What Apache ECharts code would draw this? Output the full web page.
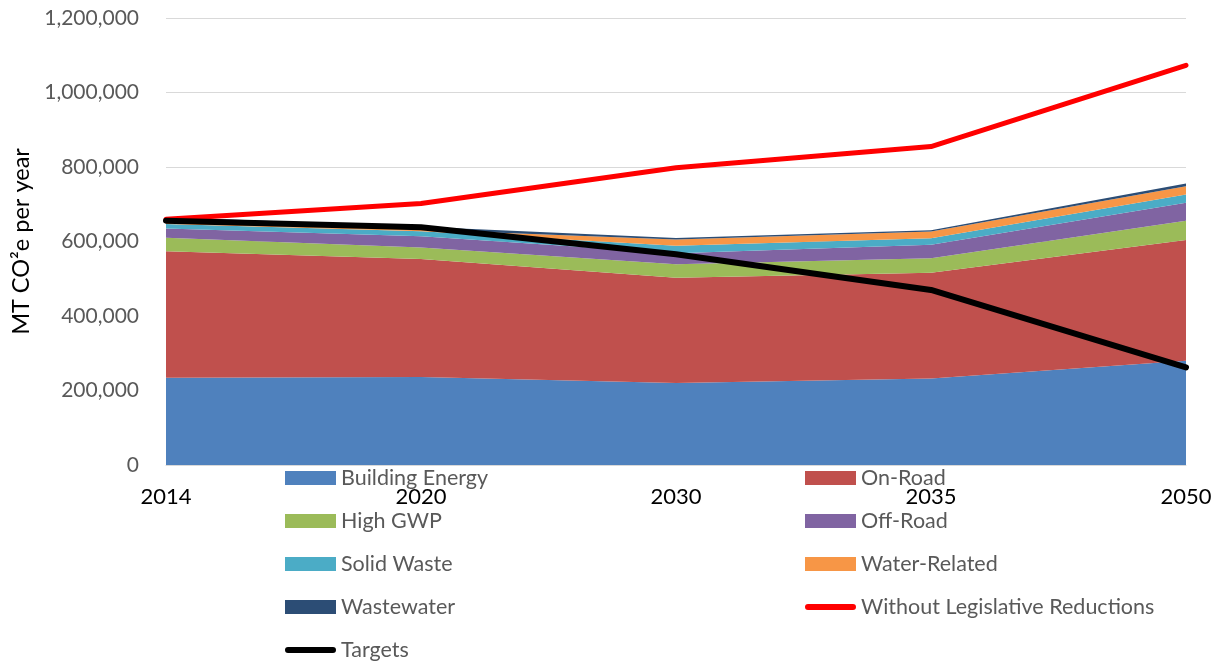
<!DOCTYPE html>
<html>
<head>
<meta charset="utf-8">
<script src="https://cdn.jsdelivr.net/npm/echarts@6/dist/echarts.min.js"></script>
<style>html,body{margin:0;padding:0;background:#fff;}#chart{width:1217px;height:665px;}</style>
</head>
<body>
<div id="chart"></div>
<script>
const categories = ['2014', '2020', '2030', '2035', '2050'];
const buildingEnergy = [234000, 236000, 220000, 232000, 280000];
const onRoad = [340000, 317000, 283000, 284000, 324000];
const highGWP = [36000, 31000, 36000, 39000, 52000];
const offRoad = [25000, 30000, 29500, 36000, 48000];
const solidWaste = [12000, 13500, 20000, 18000, 22500];
const waterRelated = [9000, 4000, 17000, 18000, 22000];
const wastewater = [10000, 8000, 4000, 3000, 7000];
const withoutLegislative = [660000, 702000, 798000, 855000, 1073000];
const targets = [656000, 638000, 566000, 470000, 262000];

const FONT = 'Lato';
const LINE_ICON = 'path://M0,0 L0.01,0 L0.01,0.01 Z M3,4 L48,4 A3,3 0 0 1 48,10 L3,10 A3,3 0 0 1 3,4 Z M51,14 L50.99,14 L50.99,13.99 Z';
function area(name, data, color) {
  return {
    name: name, type: 'line', stack: 'total', data: data,
    symbol: 'none', lineStyle: { width: 0 }, itemStyle: { color: color },
    areaStyle: { color: color, opacity: 1 }, z: 2
  };
}
function line(name, data, color, width, z) {
  return {
    name: name, type: 'line', data: data, symbol: 'none',
    itemStyle: { color: color },
    lineStyle: { color: color, width: width, cap: 'round', join: 'round' }, z: z
  };
}
const areaNames = ['Building Energy', 'On-Road', 'High GWP', 'Off-Road', 'Solid Waste', 'Water-Related', 'Wastewater'];
const lineNames = ['Without Legislative Reductions', 'Targets'];
const legendData = areaNames.map(n => ({ name: n, icon: 'rect' }))
  .concat(lineNames.map(n => ({ name: n, icon: LINE_ICON })));

const chart = echarts.init(document.getElementById('chart'));
chart.setOption({
  animation: false,
  backgroundColor: '#fff',
  textStyle: { fontFamily: FONT },
  grid: { left: 166, right: 31, top: 18, bottom: 200, containLabel: false, outerBoundsMode: 'none' },
  xAxis: {
    type: 'category', data: categories, boundaryGap: false,
    axisLine: { show: true, lineStyle: { color: '#d9d9d9', width: 1 } },
    axisTick: { show: false },
    axisLabel: { color: '#000', fontSize: 22, fontFamily: FONT, margin: 21 },
    splitLine: { show: false }
  },
  yAxis: {
    type: 'value', min: 0, max: 1200000, interval: 200000,
    name: 'MT CO²e per year', nameLocation: 'middle', nameGap: 132, nameRotate: 90,
    nameTextStyle: { color: '#000', fontSize: 23.5, fontFamily: FONT },
    axisLine: { show: false }, axisTick: { show: false },
    axisLabel: {
      color: '#595959', fontSize: 21, fontFamily: FONT, margin: 27,
      formatter: v => v.toLocaleString('en-US')
    },
    splitLine: { lineStyle: { color: '#d9d9d9', width: 1 } }
  },
  legend: {
    left: 285, top: 467, width: 1060, orient: 'horizontal', padding: 0,
    itemWidth: 51, itemHeight: 14, itemGap: 21,
    textStyle: { color: '#595959', fontSize: 21.5, fontFamily: FONT, width: 443, lineHeight: 20, overflow: 'none' },
    data: legendData
  },
  series: [
    area('Building Energy', buildingEnergy, '#4f81bd'),
    area('On-Road', onRoad, '#c0504d'),
    area('High GWP', highGWP, '#9bbb59'),
    area('Off-Road', offRoad, '#8064a2'),
    area('Solid Waste', solidWaste, '#4bacc6'),
    area('Water-Related', waterRelated, '#f79646'),
    area('Wastewater', wastewater, '#2c4d75'),
    line('Without Legislative Reductions', withoutLegislative, '#ff0000', 5, 5),
    line('Targets', targets, '#000000', 6, 6)
  ]
});
</script>
</body>
</html>
